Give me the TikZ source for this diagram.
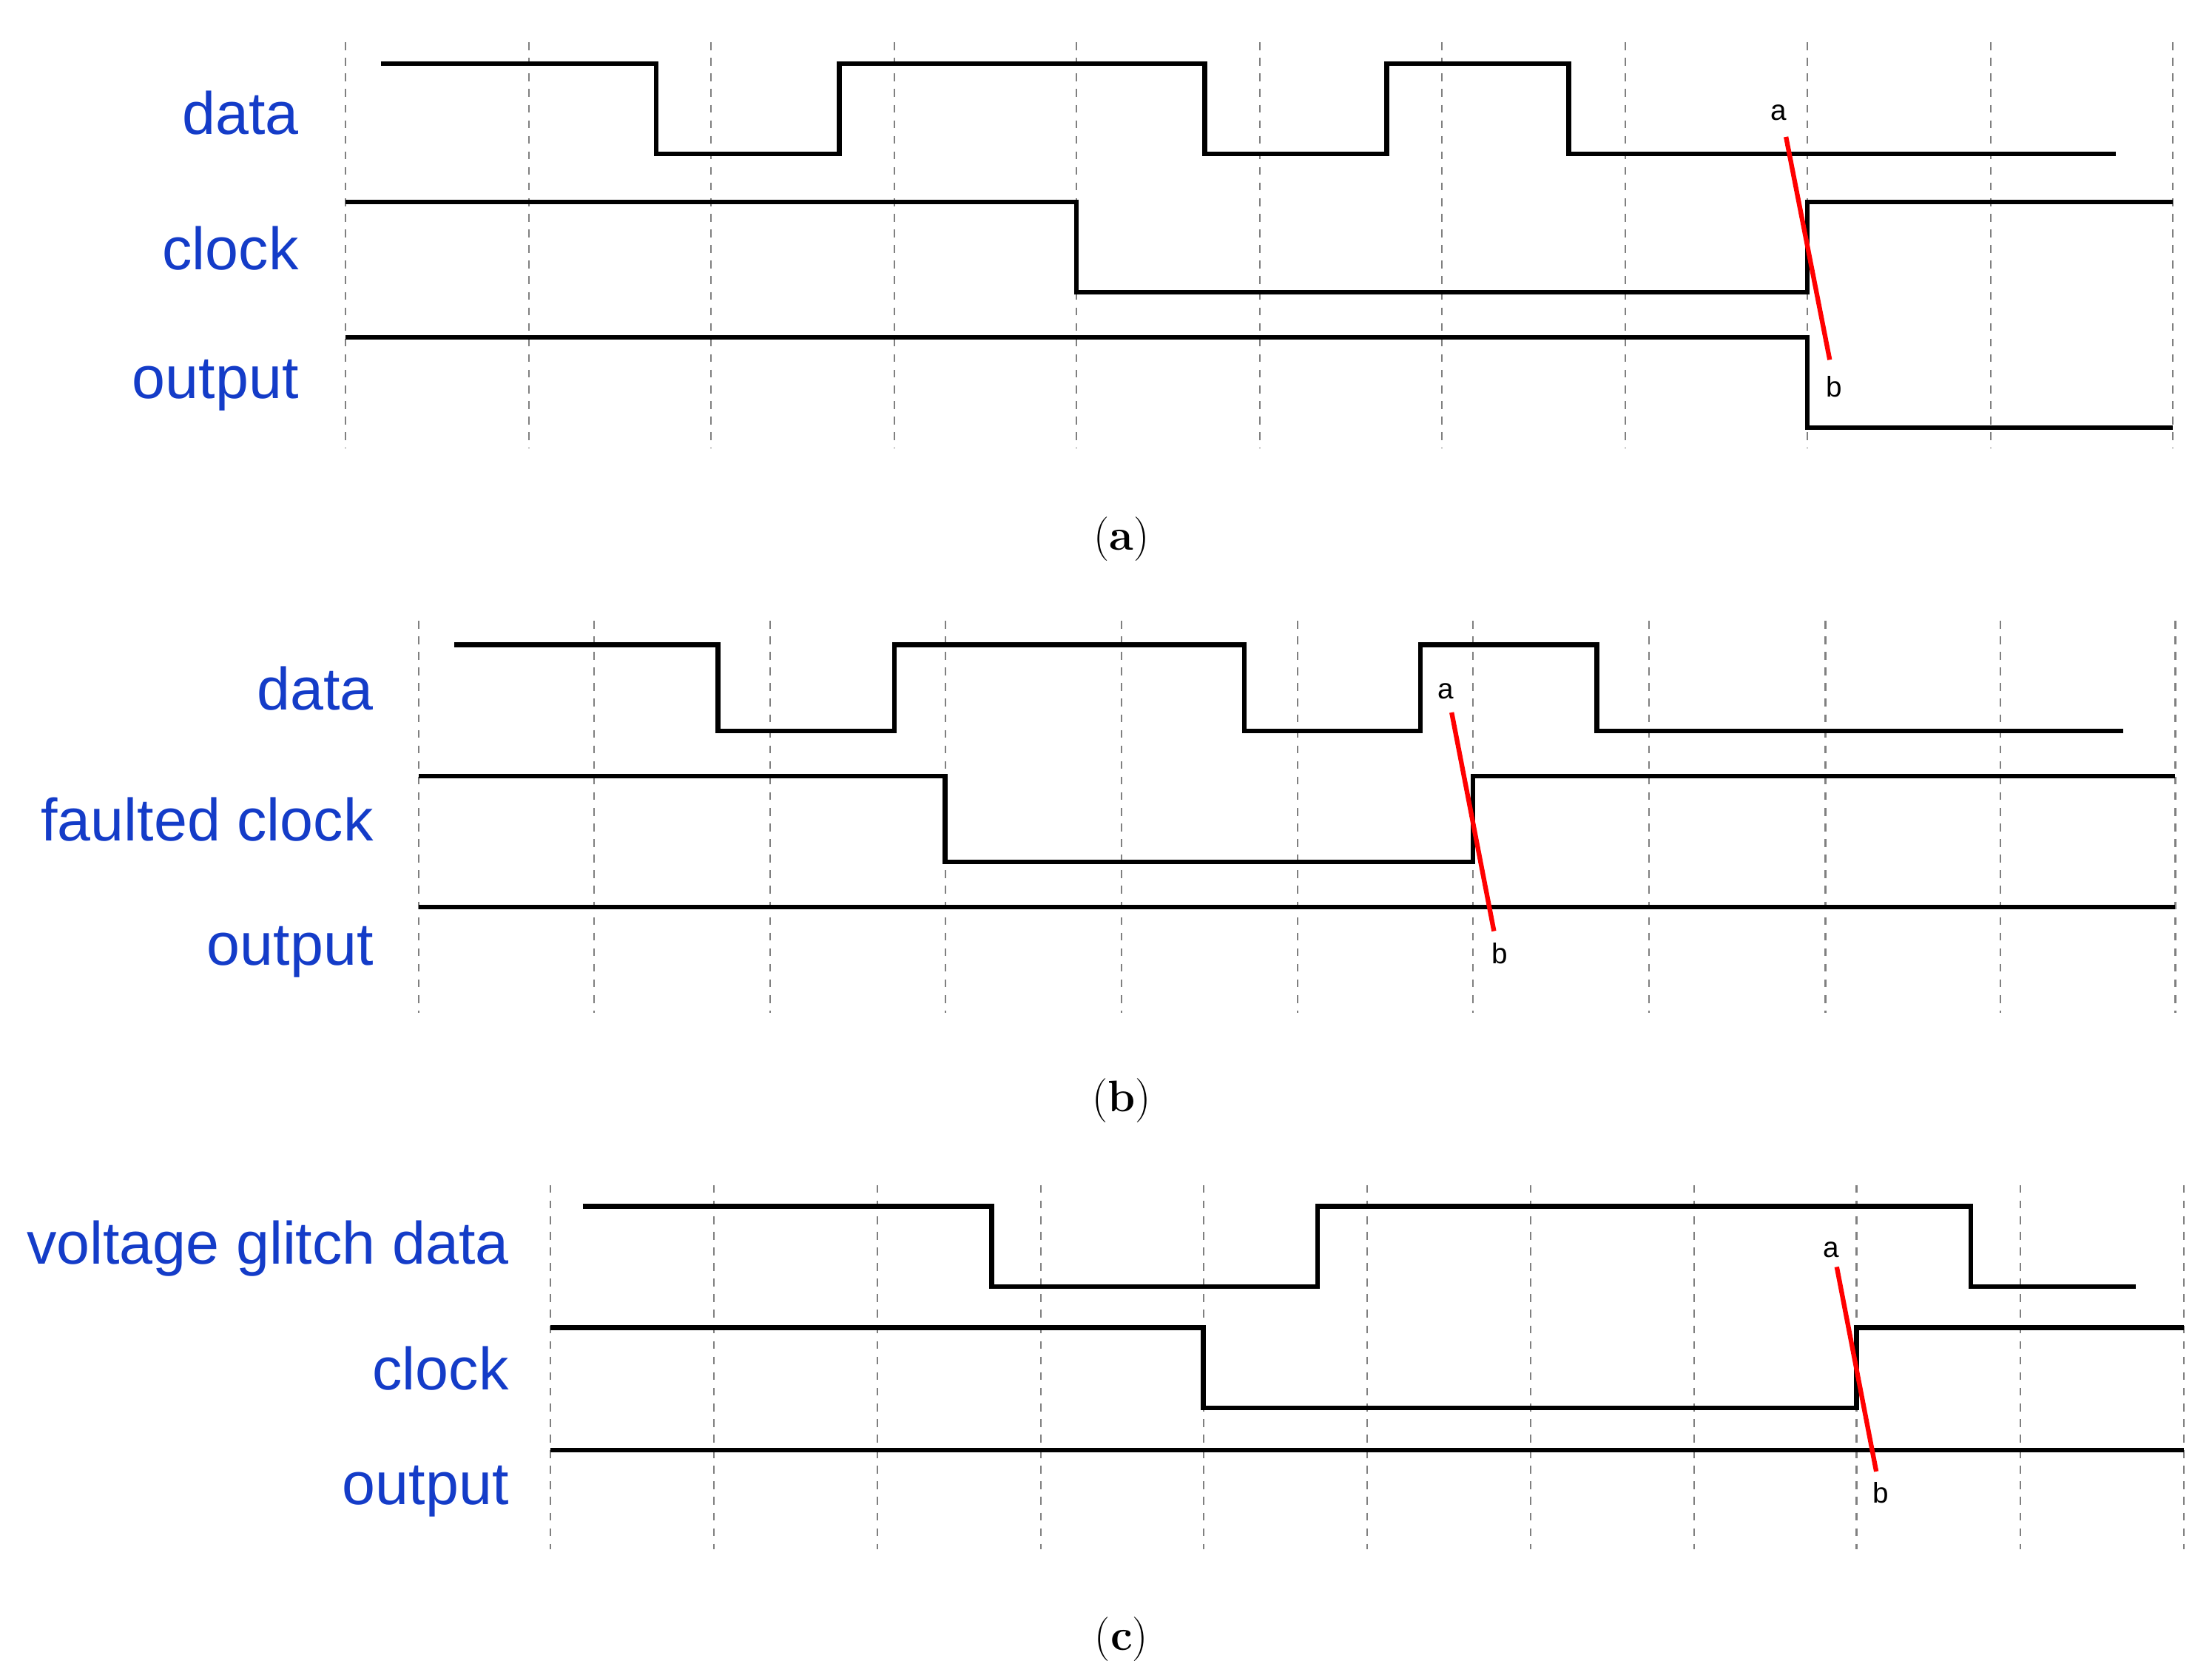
\documentclass[tikz,border=0pt]{standalone}
\usepackage{fontspec}
\newfontfamily\sig{Liberation Sans}
\definecolor{lblue}{RGB}{20,60,200}
\tikzset{
  grid/.style={gray,dashed,line width=0.6pt},
  wave/.style={black,line width=1.8pt},
  cut/.style={red,line width=1.8pt},
  lbl/.style={anchor=east,text=lblue,font=\sig\fontsize{23}{23}\selectfont,inner sep=0pt},
  ab/.style={font=\sig\fontsize{11}{11}\selectfont,inner sep=1pt},
  subcap/.style={font=\fontsize{17}{17}\selectfont}
}
\begin{document}
\begin{tikzpicture}[x=0.01907cm,y=-0.01907cm]
\useasboundingbox (0,0) rectangle (1568,1187);
% (a)
\foreach \x in {245,375,504,634,763,893,1022,1152,1281,1411,1540}
  \draw[grid] (\x,30) -- (\x,318);
\draw[wave] (270,45) -- (465,45) -- (465,109) -- (595,109) -- (595,45) -- (854,45) -- (854,109)
  -- (983,109) -- (983,45) -- (1112,45) -- (1112,109) -- (1500,109);
\draw[wave] (245,143) -- (763,143) -- (763,207) -- (1281,207) -- (1281,143) -- (1540,143);
\draw[wave] (245,239) -- (1281,239) -- (1281,303) -- (1540,303);
\node[ab] (a1) at (1261,80) {a};
\node[ab] (b1) at (1300,274) {b};
\coordinate (a1e) at (1266,97);
\coordinate (b1e) at (1297,255);
\draw[cut] (a1e) -- (b1e);
\node[lbl] (d1) at (212,80) {data};
\node[lbl] (c1) at (212,176) {clock};
\node[lbl] (o1) at (212,273) {output};
\node[subcap] (capa) at (795,382) {(\textbf{a})};
% (b)
\foreach \x in {297,421,546,670,795,920,1044,1169,1294,1418,1542}
  \draw[grid] (\x,440) -- (\x,718);
\draw[wave] (322,457) -- (509,457) -- (509,518) -- (634,518) -- (634,457) -- (882,457) -- (882,518)
  -- (1007,518) -- (1007,457) -- (1132,457) -- (1132,518) -- (1505,518);
\draw[wave] (297,550) -- (670,550) -- (670,611) -- (1044,611) -- (1044,550) -- (1542,550);
\draw[wave] (297,643) -- (1542,643);
\node[ab] (a2) at (1025,490) {a};
\node[ab] (b2) at (1063,676) {b};
\coordinate (a2e) at (1029,505);
\coordinate (b2e) at (1059,660);
\draw[cut] (a2e) -- (b2e);
\node[lbl] (d2) at (265,488) {data};
\node[lbl] (c2) at (265,581) {faulted clock};
\node[lbl] (o2) at (265,675) {output};
\node[subcap] (capb) at (795,780) {(\textbf{b})};
% (c)
\foreach \x in {390,506,622,738,853,969,1085,1201,1316,1432,1548}
  \draw[grid] (\x,840) -- (\x,1098);
\draw[wave] (413,855) -- (703,855) -- (703,912) -- (934,912) -- (934,855) -- (1397,855) -- (1397,912) -- (1514,912);
\draw[wave] (390,941) -- (853,941) -- (853,998) -- (1316,998) -- (1316,941) -- (1548,941);
\draw[wave] (390,1028) -- (1548,1028);
\node[ab] (a3) at (1298,886) {a};
\node[ab] (b3) at (1333,1058) {b};
\coordinate (a3e) at (1302,898);
\coordinate (b3e) at (1330,1043);
\draw[cut] (a3e) -- (b3e);
\node[lbl] (d3) at (361,885) {voltage glitch data};
\node[lbl] (c3) at (361,970) {clock};
\node[lbl] (o3) at (361,1057) {output};
\node[subcap] (capc) at (795,1162) {(\textbf{c})};
\end{tikzpicture}
\end{document}
